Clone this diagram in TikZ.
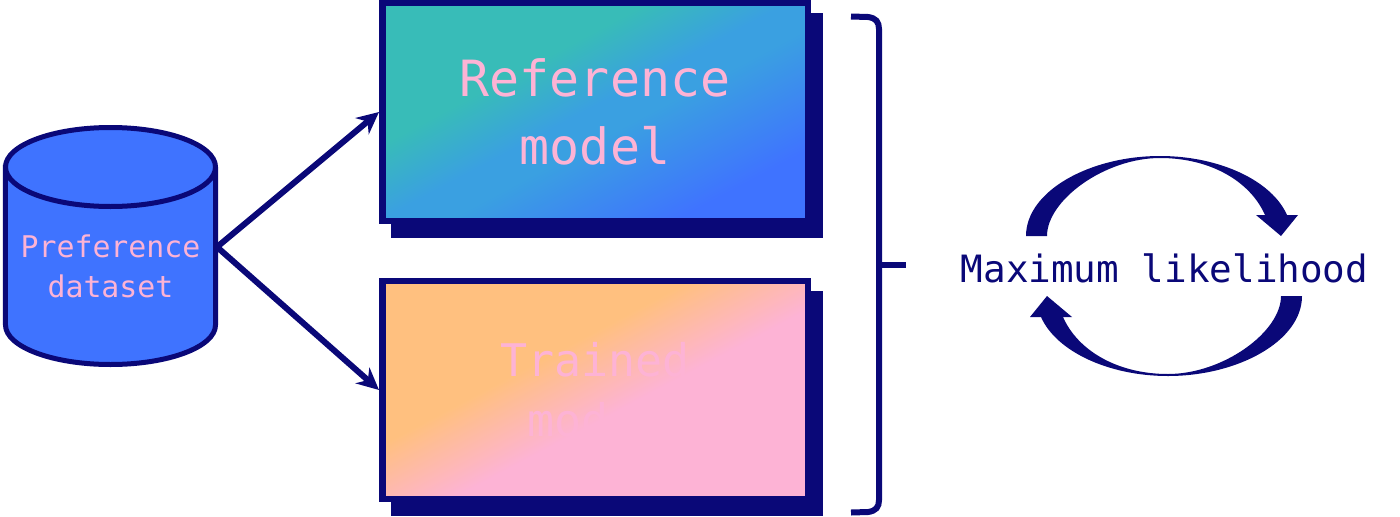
\documentclass[tikz,border=0pt]{standalone}
\usepackage{fontspec}
\setmonofont{DejaVu Sans Mono}
\usetikzlibrary{arrows.meta}
\usetikzlibrary{shadows}
\definecolor{mnavy}{RGB}{10, 8, 120}
\definecolor{mblue}{RGB}{63, 115, 255}
\definecolor{msky}{RGB}{58, 160, 225}
\definecolor{mteal}{RGB}{56, 188, 184}
\definecolor{morange}{RGB}{255, 192, 127}
\definecolor{mpink}{RGB}{253, 179, 213}
\pgfdeclarehorizontalshading{tealblue}{100bp}{color(0bp)=(mteal); color(37.6bp)=(mteal); color(49bp)=(msky); color(54.5bp)=(msky); color(73bp)=(mblue); color(100bp)=(mblue)}
\pgfdeclarehorizontalshading{orangepink}{100bp}{color(0bp)=(morange); color(41bp)=(morange); color(55bp)=(mpink); color(100bp)=(mpink)}
\tikzset{modelbox/.style = {draw=mnavy, line width=0.065cm, minimum width=4.255cm, minimum height=2.18cm,
                            align=center, text=mpink, font=\ttfamily\fontsize{14.2pt}{19.2pt}\selectfont,
                            copy shadow={shadow xshift=0.12cm, shadow yshift=-0.135cm, fill=mnavy, draw=mnavy}}}
\tikzset{conn/.style = {draw=mnavy, line width=0.06cm, -{Stealth[length=0.22cm, width=0.21cm]}}}

\begin{document}
\begin{tikzpicture}
    \useasboundingbox (0, 0) rectangle (14, 5.16);

    % cylinder
    \draw [mnavy, line width=0.05cm, fill=mblue] (0.055, 3.49) -- (0.055, 1.91) arc (180:360:1.05 and 0.395)
        -- (2.155, 3.49) arc (0:180:1.05 and 0.395) -- cycle;
    \draw [mnavy, line width=0.05cm] (0.055, 3.49) arc (180:360:1.05 and 0.395);
    \node (dataset) [align=center, text=mpink, font=\ttfamily\fontsize{8.5pt}{11.4pt}\selectfont] at (1.105, 2.50) {Preference\\dataset};
    \coordinate (datasetout) at (2.17, 2.69);

    \node (refmodel) [modelbox, shading=tealblue, shading angle=-62] at (5.95, 4.04) {Reference\\model};
    \node (trained) [modelbox, shading=orangepink, shading angle=-62,
                     font=\ttfamily\fontsize{12.8pt}{17pt}\selectfont] at (5.95, 1.26) {Trained\\model};

    \draw [conn] (datasetout) -- (refmodel.west);
    \draw [conn] (datasetout) -- (trained.west);

    % brace
    \draw [mnavy, line width=0.06cm] (8.51, 4.995) -- (8.68, 4.99) .. controls (8.76, 4.98) and (8.79, 4.94) .. (8.79, 4.87)
        -- (8.79, 0.16) .. controls (8.79, 0.09) and (8.76, 0.05) .. (8.68, 0.04) -- (8.51, 0.035);
    \draw [mnavy, line width=0.065cm] (8.77, 2.51) -- (9.06, 2.51);

    \node (mle) [text=mnavy, font=\ttfamily\fontsize{10.7pt}{12pt}\selectfont] at (11.645, 2.48) {Maximum likelihood};

    \foreach \r in {0, 180} {
      \fill [mnavy, rotate around={\r:(11.64, 2.50)}] (10.26, 2.80) .. controls (10.26, 3.25) and (10.9, 3.60) .. (11.6, 3.60)
          .. controls (12.2, 3.60) and (12.72, 3.35) .. (12.87, 3.01) -- (12.98, 3.01) -- (12.81, 2.80) -- (12.56, 3.01) -- (12.65, 3.01)
          .. controls (12.5, 3.35) and (12.1, 3.58) .. (11.6, 3.58) .. controls (11.05, 3.58) and (10.47, 3.16) .. (10.47, 2.80) -- cycle;
    }
\end{tikzpicture}
\end{document}
